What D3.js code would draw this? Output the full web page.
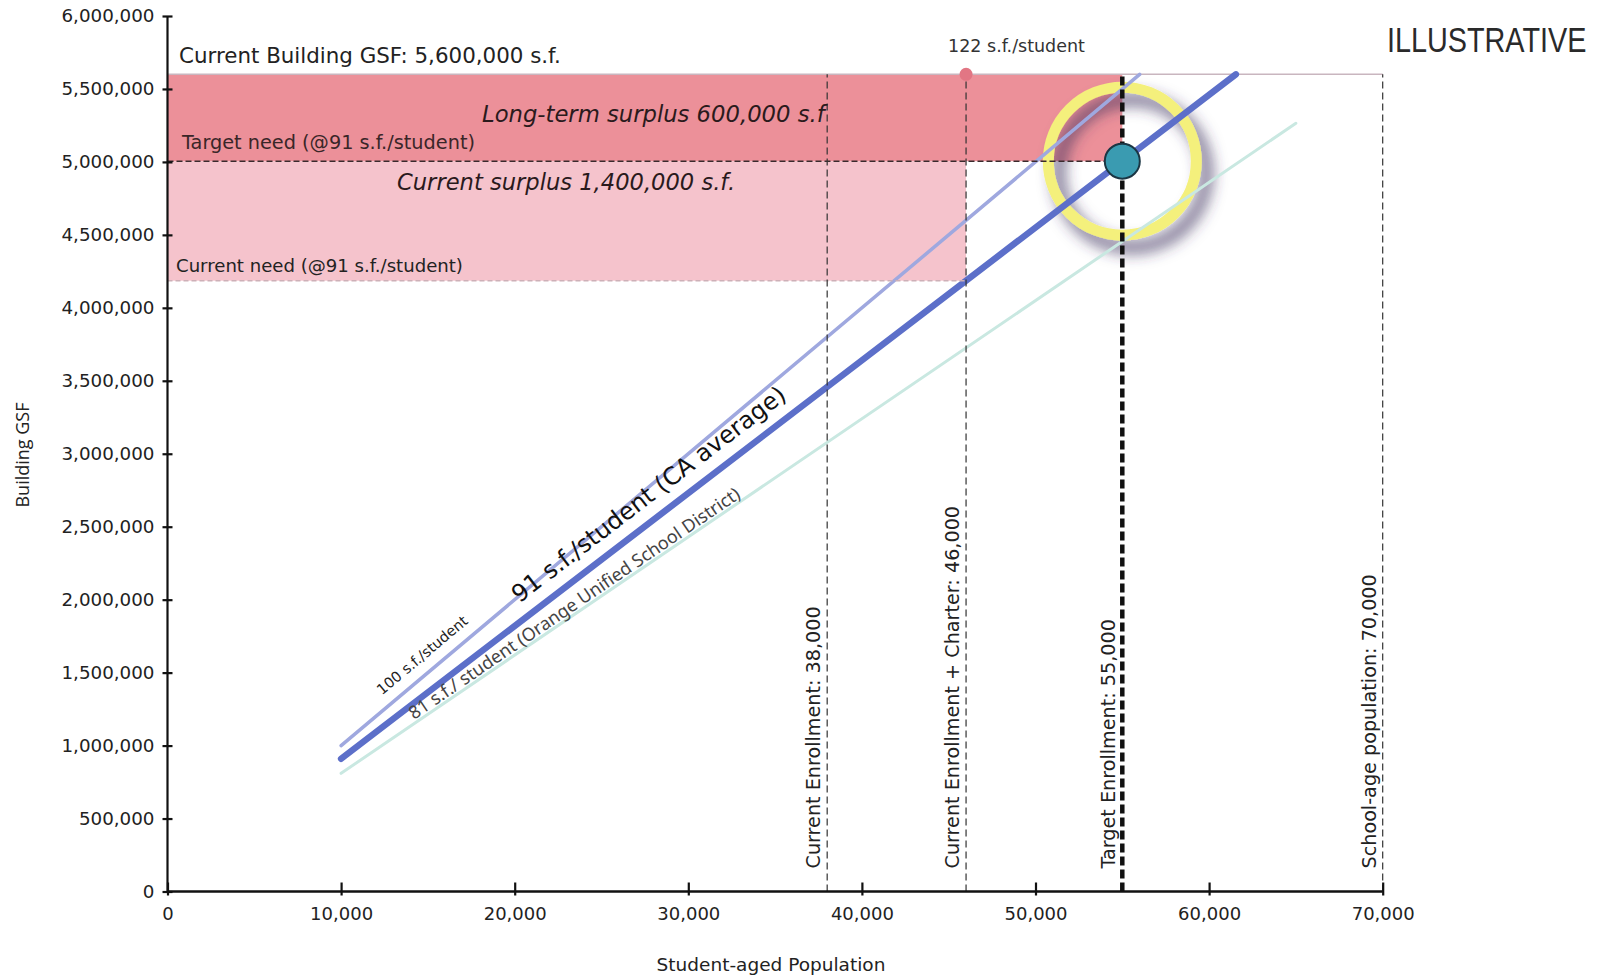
<!DOCTYPE html>
<html>
<head>
<meta charset="utf-8">
<script src="https://cdn.jsdelivr.net/npm/d3@7"></script>
<style>
  body { margin: 0; background: #fff; }
  svg { display: block; }
</style>
</head>
<body>
<svg id="chart" width="1602" height="977"></svg>
<script>
// ---- data ----
const popTicks = [0, 10000, 20000, 30000, 40000, 50000, 60000, 70000];
const gsfTicks = [0, 500000, 1000000, 1500000, 2000000, 2500000, 3000000,
                  3500000, 4000000, 4500000, 5000000, 5500000, 6000000];

// space-per-student reference lines (s.f./student) and the population span drawn
const rateValues = [100, 91, 81];
const rateStart  = [10000, 10000, 10000];
const rateEnd    = [56000, 61540, 65000];
const rateLabels = ["100 s.f./student",
                    "91 s.f./student (CA average)",
                    "81 s.f./ student (Orange Unified School District)"];

// enrollment benchmarks
const enrollLabels = ["Current Enrollment", "Current Enrollment + Charter",
                      "Target Enrollment", "School-age population"];
const enrollValues = [38000, 46000, 55000, 70000];

const currentGSF   = 5600000;   // existing building area
const targetNeed   = 5005000;   // 55,000 students @ 91 s.f.
const currentNeed  = 4186000;   // 46,000 students @ 91 s.f.
const targetPop    = 55000;
const currentPop   = 46000;
const currentRate  = 122;       // s.f./student at current enrollment + charter

// ---- layout ----
const svg = d3.select("#chart");
const x = d3.scaleLinear().domain([0, 70000]).range([167.5, 1382.7]);
const y = d3.scaleLinear().domain([0, 6000000]).range([891.5, 16]);
const fmt = d3.format(",");
const FONT = "'DejaVu Sans', Verdana, sans-serif";

const defs = svg.append("defs");
defs.append("filter").attr("id", "ringShadow")
  .attr("x", "-50%").attr("y", "-50%").attr("width", "200%").attr("height", "200%")
  .append("feDropShadow")
  .attr("dx", 10).attr("dy", 12).attr("stdDeviation", 7.5)
  .attr("flood-color", "#3b2d5c").attr("flood-opacity", 0.8);

// ---- surplus bands ----
svg.append("rect")
  .attr("x", x(0)).attr("y", y(targetNeed))
  .attr("width", x(currentPop) - x(0)).attr("height", y(currentNeed) - y(targetNeed))
  .attr("fill", "#f5c3cc");
svg.append("rect")
  .attr("x", x(0)).attr("y", y(currentGSF))
  .attr("width", x(targetPop) - x(0)).attr("height", y(targetNeed) - y(currentGSF))
  .attr("fill", "#ec9099");

// current building area line
svg.append("line")
  .attr("x1", x(0)).attr("x2", x(70000))
  .attr("y1", y(currentGSF)).attr("y2", y(currentGSF))
  .attr("stroke", "#c9b6bf").attr("stroke-width", 1.5);

// ---- highlight ring around target point ----
svg.append("circle")
  .attr("cx", x(targetPop)).attr("cy", y(targetNeed)).attr("r", 74)
  .attr("fill", "none").attr("stroke", "#f4f07c").attr("stroke-width", 11)
  .attr("filter", "url(#ringShadow)");

// ---- rate lines ----
const rateColors = ["#9fa8df", "#5c6fc9", "#c9e8e1"];
const rateWidths = [3.5, 6.5, 3];
rateValues.forEach((r, i) => {
  svg.append("line")
    .attr("x1", x(rateStart[i])).attr("y1", y(r * rateStart[i]))
    .attr("x2", x(rateEnd[i])).attr("y2", y(r * rateEnd[i]))
    .attr("stroke", rateColors[i]).attr("stroke-width", rateWidths[i])
    .attr("stroke-linecap", "round");
});

// labels along rate lines
function angleFor(r) {
  const dx = x(20000) - x(10000);
  const dy = y(r * 20000) - y(r * 10000);
  return Math.atan2(dy, dx) * 180 / Math.PI;
}
const labelAt   = [12800, 20800, 14300];
const labelOff  = [-12, -15, -3];
const labelSize = [14.5, 24, 18];
const labelFont = [FONT, FONT, "'Noto Sans', sans-serif"];
const labelFill = ["#222", "#111", "#444"];
rateValues.forEach((r, i) => {
  const p = labelAt[i];
  svg.append("text")
    .attr("transform", `translate(${x(p)},${y(r * p)}) rotate(${angleFor(r)})`)
    .attr("y", labelOff[i])
    .attr("font-family", labelFont[i]).attr("font-size", labelSize[i])
    .attr("fill", labelFill[i])
    .text(rateLabels[i]);
});

// ---- need lines ----
svg.append("line")
  .attr("x1", x(0)).attr("x2", x(targetPop))
  .attr("y1", y(targetNeed)).attr("y2", y(targetNeed))
  .attr("stroke", "#3a2a2c").attr("stroke-width", 1.6)
  .attr("stroke-dasharray", "6,3");
svg.append("line")
  .attr("x1", x(0)).attr("x2", x(currentPop))
  .attr("y1", y(currentNeed)).attr("y2", y(currentNeed))
  .attr("stroke", "#cdb0b7").attr("stroke-width", 1.5)
  .attr("stroke-dasharray", "5,3");

// ---- enrollment benchmark lines ----
enrollValues.forEach((v, i) => {
  const thick = v === targetPop;
  svg.append("line")
    .attr("x1", x(v)).attr("x2", x(v))
    .attr("y1", y(0)).attr("y2", y(currentGSF))
    .attr("stroke", thick ? "#111" : "#333")
    .attr("stroke-width", thick ? 4.5 : 1.2)
    .attr("stroke-dasharray", thick ? "9,4" : "7,4");
  svg.append("text")
    .attr("transform", `translate(${x(v) - 7},${y(0) - 23}) rotate(-90)`)
    .attr("font-family", FONT).attr("font-size", 19.2).attr("fill", "#222")
    .text(`${enrollLabels[i]}: ${fmt(v)}`);
});

// current-rate marker
svg.append("circle")
  .attr("cx", x(currentPop)).attr("cy", y(currentGSF)).attr("r", 6.5)
  .attr("fill", "#e27684");
svg.append("text")
  .attr("x", x(currentPop) - 18).attr("y", 52)
  .attr("font-family", FONT).attr("font-size", 17.5).attr("fill", "#333")
  .text(`${currentRate} s.f./student`);

// target point
svg.append("circle")
  .attr("cx", x(targetPop)).attr("cy", y(targetNeed)).attr("r", 17.5)
  .attr("fill", "#3a9bb1").attr("stroke", "#1b3644").attr("stroke-width", 2);

// ---- band annotations ----
svg.append("text")
  .attr("x", 179).attr("y", 63)
  .attr("font-family", FONT).attr("font-size", 21.4).attr("fill", "#222")
  .text(`Current Building GSF: ${fmt(currentGSF)} s.f.`);
svg.append("text")
  .attr("x", 482).attr("y", 122)
  .attr("font-family", FONT).attr("font-size", 22.7).attr("font-style", "italic")
  .attr("fill", "#2a1a1c")
  .text("Long-term surplus 600,000 s.f");
svg.append("text")
  .attr("x", 182).attr("y", 149)
  .attr("font-family", FONT).attr("font-size", 19.3).attr("fill", "#3a2628")
  .text("Target need (@91 s.f./student)");
svg.append("text")
  .attr("x", 397).attr("y", 190)
  .attr("font-family", FONT).attr("font-size", 22.6).attr("font-style", "italic")
  .attr("fill", "#2a1a1c")
  .text("Current surplus 1,400,000 s.f.");
svg.append("text")
  .attr("x", 176).attr("y", 272)
  .attr("font-family", FONT).attr("font-size", 18.1).attr("fill", "#222")
  .text("Current need (@91 s.f./student)");

// ---- axes ----
const yAxis = svg.append("g")
  .attr("transform", `translate(${x(0)},0)`)
  .call(d3.axisLeft(y).tickValues(gsfTicks).tickFormat(fmt).tickSize(5).tickPadding(8));
yAxis.select(".domain").attr("stroke", "#111").attr("stroke-width", 2.2)
  .attr("d", `M0,${y(0)}V${y(6000000)}`);
yAxis.selectAll(".tick line").attr("x1", -5).attr("x2", 5)
  .attr("stroke", "#111").attr("stroke-width", 2.2);
yAxis.selectAll(".tick text")
  .attr("font-family", FONT).attr("font-size", 18.3).attr("fill", "#222");

const xAxis = svg.append("g")
  .attr("transform", `translate(0,${y(0)})`)
  .call(d3.axisBottom(x).tickValues(popTicks).tickFormat(fmt).tickSize(4).tickPadding(12));
xAxis.select(".domain").attr("stroke", "#111").attr("stroke-width", 2.5)
  .attr("d", `M${x(0)},0H${x(70000)}`);
xAxis.selectAll(".tick line").attr("y1", -9).attr("y2", 4)
  .attr("stroke", "#111").attr("stroke-width", 2.2);
xAxis.selectAll(".tick text")
  .attr("font-family", FONT).attr("font-size", 18).attr("fill", "#222");

// axis titles
svg.append("text")
  .attr("transform", `translate(29,455) rotate(-90)`)
  .attr("text-anchor", "middle")
  .attr("font-family", "'Open Sans', sans-serif").attr("font-size", 18).attr("fill", "#222")
  .text("Building GSF");
svg.append("text")
  .attr("x", 771).attr("y", 971).attr("text-anchor", "middle")
  .attr("font-family", FONT).attr("font-size", 18.5).attr("fill", "#222")
  .text("Student-aged Population");

// stamp, horizontally condensed
svg.append("text")
  .attr("transform", "translate(1387,52) scale(0.8,1)")
  .attr("font-family", "'Liberation Sans', sans-serif")
  .attr("font-size", 36).attr("fill", "#2a2a2a")
  .text("ILLUSTRATIVE");
</script>
</body>
</html>
